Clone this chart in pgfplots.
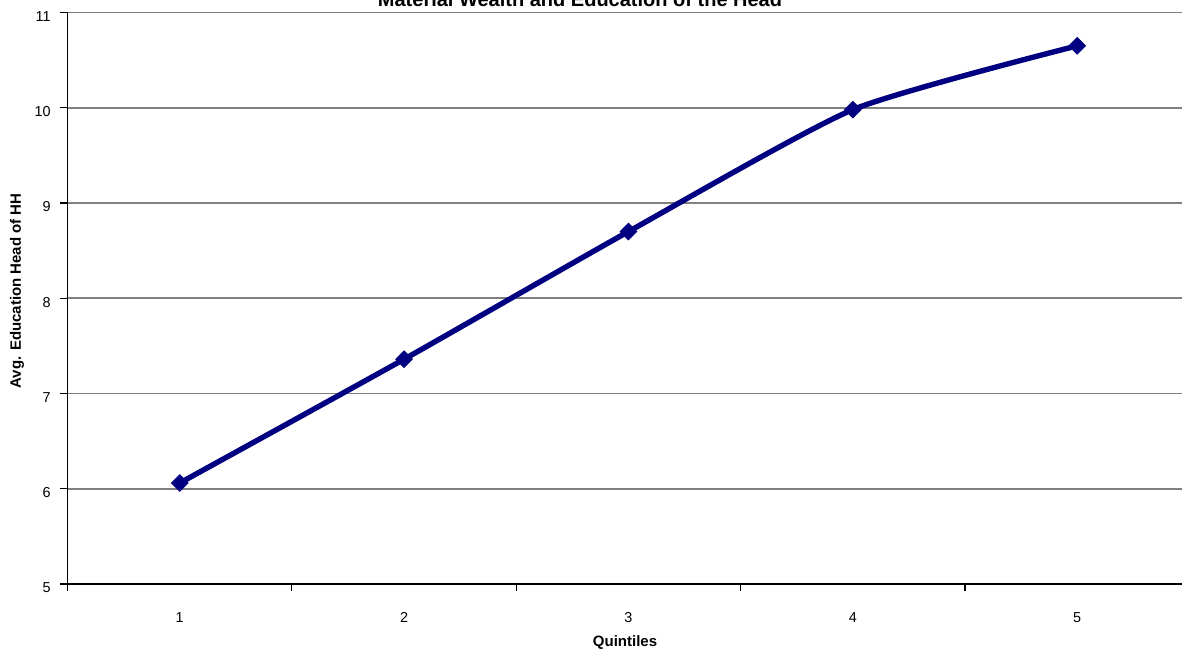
\documentclass[border=0pt]{standalone}
\usepackage{pgfplots}
\pgfplotsset{compat=1.18}
\usepackage{fontspec}
\setmainfont{Liberation Sans}
\definecolor{navyline}{RGB}{0,0,128}
\definecolor{gridgray}{RGB}{128,128,128}
\begin{document}
\begin{tikzpicture}
\useasboundingbox (0,0) rectangle (591pt,328pt);
\begin{axis}[
  at={(33.75pt,36pt)}, anchor=south west,
  scale only axis,
  width=557.25pt, height=285.75pt,
  xmin=0.5, xmax=5.467,
  ymin=5, ymax=11,
  ytick={5,6,7,8,9,10,11},
  xtick={0.5,1.5,2.5,3.5,4.5,5.5},
  xticklabels={},
  extra x ticks={1,2,3,4,5},
  extra x tick labels={1,2,3,4,5},
  extra x tick style={major tick length=0pt, grid=none,
     xticklabel style={yshift=-10pt, text height=5.5pt, text depth=0pt}},
  axis x line*=bottom, axis y line*=left,
  axis line style={black, line width=0.6pt},
  tick align=outside,
  major tick length=3.5pt,
  tick style={black, line width=0.6pt},
  ymajorgrids,
  xmajorgrids=false,
  major grid style={gridgray, line width=0.9pt},
  tick label style={font=\fontsize{7.2}{8}\selectfont},
  /pgf/number format/assume math mode=true,
  yticklabel style={yshift=-2pt, xshift=-1.4pt},
  clip=false,
]
\addplot[navyline, line width=2.7pt, smooth, tension=0.35,
  mark=square*, mark size=2.9pt,
  mark options={rotate=45, line width=0.5pt, fill=navyline}]
  coordinates {(1,6.06) (2,7.36) (3,8.70) (4,9.98) (5,10.65)};
\end{axis}
\node[anchor=base, font=\fontsize{10}{12}\selectfont\bfseries] at (290pt,324.5pt) {Material Wealth and Education of the Head};
\node[anchor=base, font=\fontsize{7.5}{9}\selectfont\bfseries] at (312.5pt,4.5pt) {Quintiles};
\node[rotate=90, font=\fontsize{7.5}{9}\selectfont\bfseries] at (8.5pt,182.5pt) {Avg. Education Head of HH};
\end{tikzpicture}
\end{document}
